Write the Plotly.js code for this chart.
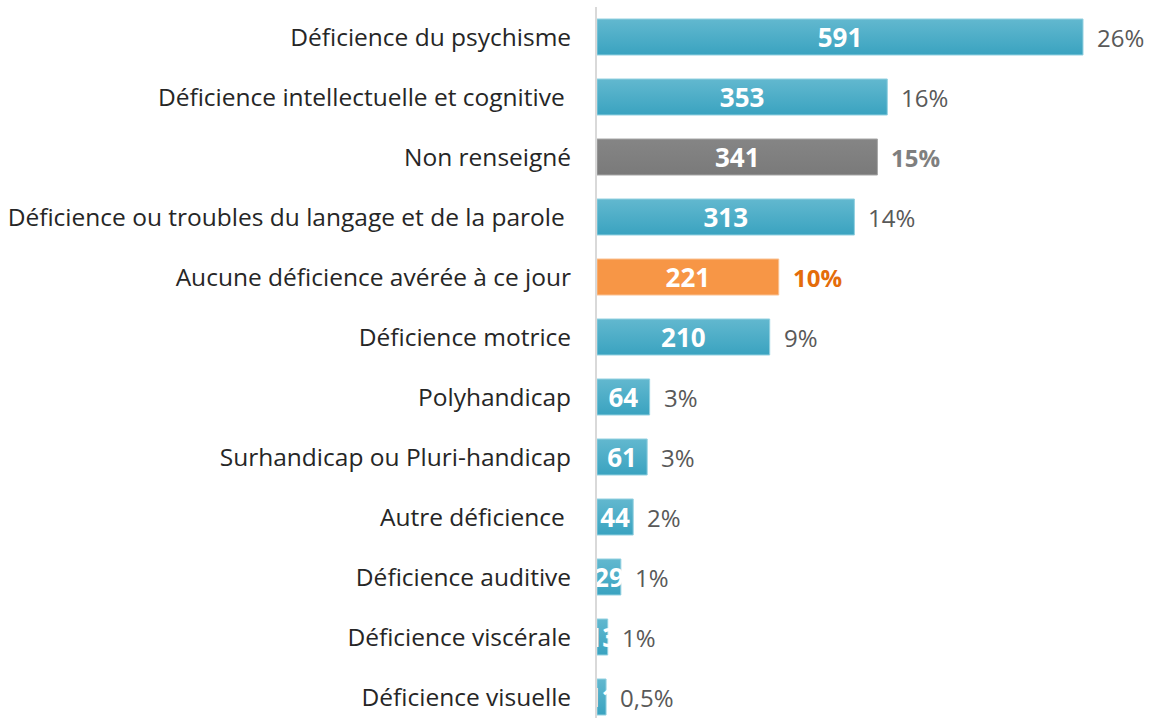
<!DOCTYPE html>
<html><head><meta charset="utf-8">
<script src="https://cdn.plot.ly/plotly-3.0.1.min.js"></script>
<style>body{margin:0;background:#fff}#chart{width:1157px;height:718px}</style>
</head><body><div id="chart"></div>
<script>
const categories = ["Déficience du psychisme","Déficience intellectuelle et cognitive ","Non renseigné","Déficience ou troubles du langage et de la parole ","Aucune déficience avérée à ce jour","Déficience motrice","Polyhandicap","Surhandicap ou Pluri-handicap","Autre déficience ","Déficience auditive","Déficience viscérale","Déficience visuelle"];
const values = [591,353,341,313,221,210,64,61,44,29,13,11];
const percentLabels = ["26%","16%","15%","14%","10%","9%","3%","3%","2%","1%","1%","0,5%"];
const barColors = ["#4BACC6","#4BACC6","#7F7F7F","#4BACC6","#F79646","#4BACC6","#4BACC6","#4BACC6","#4BACC6","#4BACC6","#4BACC6","#4BACC6"];
const lineColors = ["#92D0E0","#92D0E0","#A6A6A6","#92D0E0","#FAC090","#92D0E0","#92D0E0","#92D0E0","#92D0E0","#92D0E0","#92D0E0","#92D0E0"];
const pctColors = ["#595959","#595959","#7F7F7F","#595959","#E46C0A","#595959","#595959","#595959","#595959","#595959","#595959","#595959"];
const pctBold = [false,false,true,false,true,false,false,false,false,false,false,false];

const FONT = "'Open Sans', sans-serif";
const trace = {
  type: "bar", orientation: "h",
  y: categories, x: values,
  text: values.map(String),
  textposition: "inside", insidetextanchor: "middle", constraintext: "none", textangle: 0,
  textfont: {family: FONT, size: 26, color: "#FFFFFF", weight: 700},
  marker: {color: barColors, line: {color: lineColors, width: 1}},
  hoverinfo: "none", cliponaxis: true
};
const annotations = categories.map((c, i) => ({
  x: values[i], y: c, xref: "x", yref: "y",
  text: pctBold[i] ? "<b>" + percentLabels[i] + "</b>" : percentLabels[i],
  showarrow: false, xanchor: "left", xshift: 12,
  font: {family: FONT, size: 24, color: pctColors[i]}
}));
const layout = {
  width: 1157, height: 718,
  margin: {l: 597, r: 0, t: 7, b: 0},
  paper_bgcolor: "#fff", plot_bgcolor: "#fff",
  showlegend: false, bargap: 0.4,
  xaxis: {range: [0, 681], visible: false, fixedrange: true},
  yaxis: {type: "category", range: [11.35, -0.5], showline: true, linecolor: "#D9D9D9", linewidth: 2,
          ticks: "", showgrid: false, zeroline: false, ticklabelstandoff: 19,
          tickfont: {family: FONT, size: 24.5, color: "#262626"}},
  annotations: annotations,
  font: {family: FONT}
};
Plotly.newPlot("chart", [trace], layout, {staticPlot: true}).then(gd => {
  const svg = gd.querySelector("svg.main-svg");
  const ns = "http://www.w3.org/2000/svg";
  let defs = svg.querySelector("defs");
  const grads = {"#4BACC6": ["#62B8CF", "#3AA3C0"], "#7F7F7F": ["#858585", "#7A7A7A"], "#F79646": ["#F79646", "#F79646"]};
  Object.keys(grads).forEach((k, gi) => {
    const g = document.createElementNS(ns, "linearGradient");
    g.setAttribute("id", "grad" + gi);
    g.setAttribute("x1", "0"); g.setAttribute("y1", "0"); g.setAttribute("x2", "0"); g.setAttribute("y2", "1");
    [[0, grads[k][0]], [1, grads[k][1]]].forEach(([o, c]) => {
      const s = document.createElementNS(ns, "stop");
      s.setAttribute("offset", o); s.setAttribute("stop-color", c);
      g.appendChild(s);
    });
    defs.appendChild(g);
    grads[k].id = "grad" + gi;
  });
  gd.querySelectorAll(".bars .point path").forEach((p, i) => {
    const c = barColors[i];
    if (grads[c]) p.style.fill = "url(#" + grads[c].id + ")";
  });
});
</script></body></html>
